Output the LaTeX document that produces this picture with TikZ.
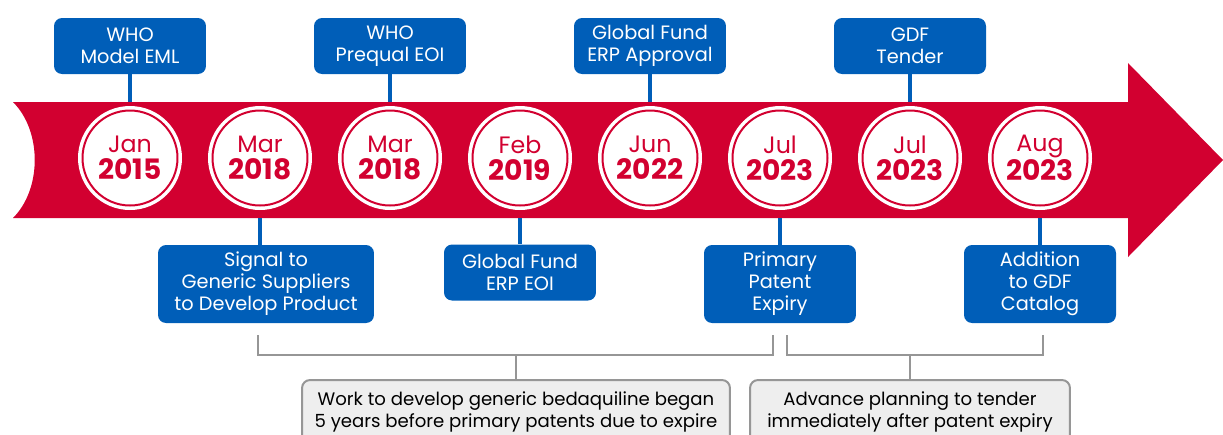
\documentclass[tikz,border=0pt]{standalone}
\usepackage{fontspec}
\setmainfont{Poppins}
\usetikzlibrary{calc}
\definecolor{arrowred}{RGB}{210,0,48}
\definecolor{boxblue}{RGB}{0,94,184}
\definecolor{notegray}{RGB}{238,238,238}
\definecolor{linegray}{RGB}{150,150,150}
\newcommand{\monthyear}[2]{#1\\{\fontsize{16}{15.3}\selectfont\bfseries #2}}
\tikzset{
	datecirc/.style={circle, fill=white, draw=arrowred, line width=0.04cm, minimum size=1.9cm, inner sep=0pt,
		preaction={draw=white, line width=0.18cm}, text=arrowred, align=center,
		font=\fontsize{13.5}{15.3}\selectfont},
	eventbox/.style={rectangle, rounded corners=0.16cm, fill=boxblue, text=white, align=center, inner sep=0pt,
		minimum width=3.04cm, font=\fontsize{11}{12.6}\selectfont},
	notebox/.style={rectangle, rounded corners=0.16cm, fill=notegray, draw=linegray, line width=0.04cm,
		align=center, inner sep=0pt, minimum height=1.28cm, font=\fontsize{10.3}{12.2}\selectfont},
	stem/.style={boxblue, line width=0.08cm},
	bracket/.style={linegray, line width=0.05cm}
}

\begin{document}
\begin{tikzpicture}[x=0.02cm, y=-0.02cm]
	%%%%% START %%%%%
	\useasboundingbox (0,0) rectangle (1223,434);
	
	\fill[arrowred] (13,102) -- (1128,102) -- (1128,63) -- (1223,160) -- (1128,257) -- (1128,218) -- (13,218)
		.. controls (42,189) and (42,131) .. (13,102) -- cycle;
	\coordinate (bandtop) at (0,102);
	\coordinate (bandbot) at (0,218);
	
	\node[datecirc] (d1) at (130,158) {\monthyear{Jan}{2015}};
	\node[datecirc] (d2) at (260,158) {\monthyear{Mar}{2018}};
	\node[datecirc] (d3) at (390,158) {\monthyear{Mar}{2018}};
	\node[datecirc] (d4) at (520,158) {\monthyear{Feb}{2019}};
	\node[datecirc] (d5) at (650,158) {\monthyear{Jun}{2022}};
	\node[datecirc] (d6) at (780,158) {\monthyear{Jul}{2023}};
	\node[datecirc] (d7) at (910,158) {\monthyear{Jul}{2023}};
	\node[datecirc] (d8) at (1040,158) {\monthyear{Aug}{2023}};
	
	\node[eventbox, minimum height=1.12cm] (t1) at (130,46) {WHO\\Model EML};
	\node[eventbox, minimum height=1.12cm] (t2) at (390,46) {WHO\\Prequal EOI};
	\node[eventbox, minimum height=1.12cm] (t3) at (650,46) {Global Fund\\ERP Approval};
	\node[eventbox, minimum height=1.12cm] (t4) at (910,46) {GDF\\Tender};
	
	\node[eventbox, minimum width=4.32cm, minimum height=1.56cm] (b1) at (266,284) {Signal to\\Generic Suppliers\\to Develop Product};
	\node[eventbox, minimum height=1.12cm] (b2) at (520,272.5) {Global Fund\\ERP EOI};
	\node[eventbox, minimum height=1.56cm] (b3) at (780,284) {Primary\\Patent\\Expiry};
	\node[eventbox, minimum height=1.56cm] (b4) at (1040,284) {Addition\\to GDF\\Catalog};
	
	\draw[stem] (t1.south) -- (t1.south |- bandtop);
	\draw[stem] (t2.south) -- (t2.south |- bandtop);
	\draw[stem] (t3.south) -- (t3.south |- bandtop);
	\draw[stem] (t4.south) -- (t4.south |- bandtop);
	\draw[stem] (d2 |- bandbot) -- (d2 |- b1.north);
	\draw[stem] (d4 |- bandbot) -- (d4 |- b2.north);
	\draw[stem] (d6 |- bandbot) -- (d6 |- b3.north);
	\draw[stem] (d8 |- bandbot) -- (d8 |- b4.north);
	
	\node[notebox, minimum width=8.56cm] (n1) at (516,412) {Work to develop generic bedaquiline began\\5 years before primary patents due to expire};
	\node[notebox, minimum width=6.4cm] (n2) at (910,412) {Advance planning to tender\\immediately after patent expiry};
	
	\coordinate (k1l) at (258,335);
	\coordinate (k1r) at (773,335);
	\coordinate (k1m) at (516,355);
	\coordinate (k2l) at (787,335);
	\coordinate (k2r) at (1043,335);
	\coordinate (k2m) at (910,355);
	\draw[bracket] (k1l) |- (k1m) -| (k1r);
	\draw[bracket] (k1m) -- (n1.north);
	\draw[bracket] (k2l) |- (k2m) -| (k2r);
	\draw[bracket] (k2m) -- (n2.north);
	%%%%% END %%%%%
\end{tikzpicture}
\end{document}
